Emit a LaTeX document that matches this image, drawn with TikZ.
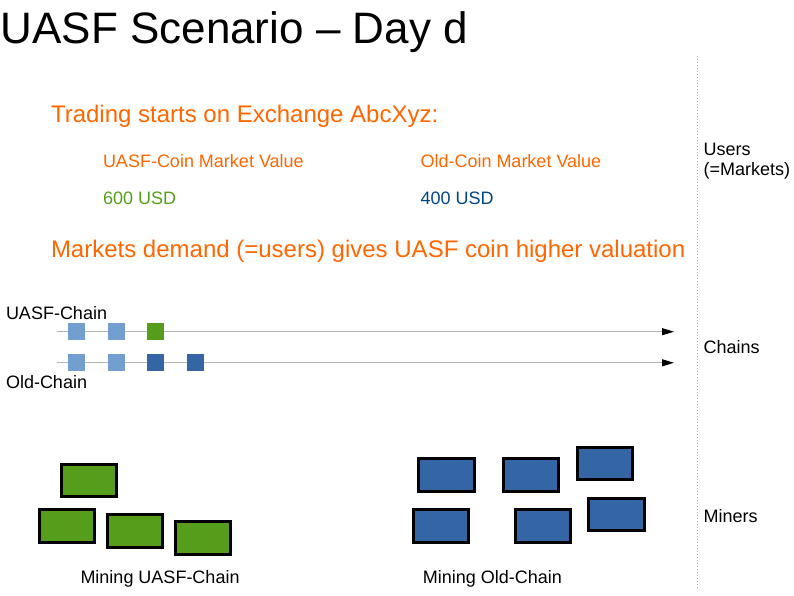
\documentclass[tikz,border=0pt]{standalone}
\usepackage{fontspec}
\setmainfont{Liberation Sans}
\usetikzlibrary{arrows.meta}
\definecolor{orangetxt}{HTML}{FF6600}
\definecolor{greentxt}{HTML}{579D1C}
\definecolor{bluetxt}{HTML}{004586}
\definecolor{lightblk}{HTML}{729FCF}
\definecolor{darkblk}{HTML}{3465A4}
\definecolor{greenblk}{HTML}{579D1C}
\definecolor{chainline}{HTML}{B3B3B3}
\tikzset{
  lbl/.style={anchor=base west, inner sep=0pt, outer sep=0pt, font=\fontsize{18}{20}\selectfont},
  big/.style={anchor=base west, inner sep=0pt, outer sep=0pt, font=\fontsize{24}{28}\selectfont, text=orangetxt},
  blk/.style={minimum width=17pt, minimum height=17pt, inner sep=0pt, outer sep=0pt, fill=#1},
  miner/.style={minimum width=55.3pt, minimum height=32.6pt, inner sep=0pt, draw=black, line width=3pt, fill=#1},
  chainarrow/.style={draw=chainline, line width=1pt, -{Triangle[length=12pt,width=7pt,color=black]}}
}
\begin{document}
\begin{tikzpicture}[x=1pt,y=-1pt]
\useasboundingbox (0,0) rectangle (794,595);
% title
\node[anchor=base west, inner sep=0pt, font=\fontsize{44}{48}\selectfont] (title) at (0.5,43) {UASF Scenario – Day d};
% separator
\coordinate (septop) at (697.3,56);
\coordinate (sepbot) at (697.3,589);
\draw[gray!60, line width=1pt, dash pattern=on 1pt off 2pt] (septop) -- (sepbot);
% market texts
\node[big] (trading) at (51,122) {Trading starts on Exchange AbcXyz:};
\node[lbl, text=orangetxt] (uasfval) at (103,167) {UASF-Coin Market Value};
\node[lbl, text=orangetxt] (oldval) at (420.5,167) {Old-Coin Market Value};
\node[lbl, text=greentxt] (uasfusd) at (103,204) {600 USD};
\node[lbl, text=bluetxt] (oldusd) at (420.5,204) {400 USD};
\node[big] (demand) at (51,257) {Markets demand (=users) gives UASF coin higher valuation};
% right labels
\node[lbl, align=left, anchor=base west, font=\fontsize{18}{20}\selectfont] (users) at (703.7,175) {Users\\(=Markets)};
\node[lbl] (chains) at (703.7,353) {Chains};
\node[lbl] (miners) at (703.7,522.5) {Miners};
% chain labels
\node[lbl] (uasflbl) at (6,319) {UASF-Chain};
\node[lbl] (oldlbl) at (6,388) {Old-Chain};
% chain lines
\coordinate (us) at (56.7,331.7);
\coordinate (ue) at (674,331.7);
\coordinate (os) at (56.7,362.8);
\coordinate (oe) at (674,362.8);
\draw[chainarrow] (us) -- (ue);
\draw[chainarrow] (os) -- (oe);
% chain blocks
\node[blk=lightblk] (u1) at (76.7,331.8) {};
\node[blk=lightblk] (u2) at (116,331.8) {};
\node[blk=greenblk] (u3) at (155.7,331.8) {};
\node[blk=lightblk] (o1) at (76.7,362.7) {};
\node[blk=lightblk] (o2) at (116,362.7) {};
\node[blk=darkblk] (o3) at (155.7,362.7) {};
\node[blk=darkblk] (o4) at (195.7,362.7) {};
% miners UASF
\node[miner=greenblk] (g1) at (89.2,480.5) {};
\node[miner=greenblk] (g2) at (66.7,525.9) {};
\node[miner=greenblk] (g3) at (134.7,531.2) {};
\node[miner=greenblk] (g4) at (202.7,538) {};
% miners Old
\node[miner=darkblk] (b1) at (446.5,475) {};
\node[miner=darkblk] (b2) at (531.3,475) {};
\node[miner=darkblk] (b3) at (605.2,463.5) {};
\node[miner=darkblk] (b4) at (440.8,525.9) {};
\node[miner=darkblk] (b5) at (542.8,525.9) {};
\node[miner=darkblk] (b6) at (616.5,514.3) {};
% miner labels
\node[lbl] (minu) at (80.5,583.3) {Mining UASF-Chain};
\node[lbl] (mino) at (422.8,583.3) {Mining Old-Chain};
\end{tikzpicture}
\end{document}
